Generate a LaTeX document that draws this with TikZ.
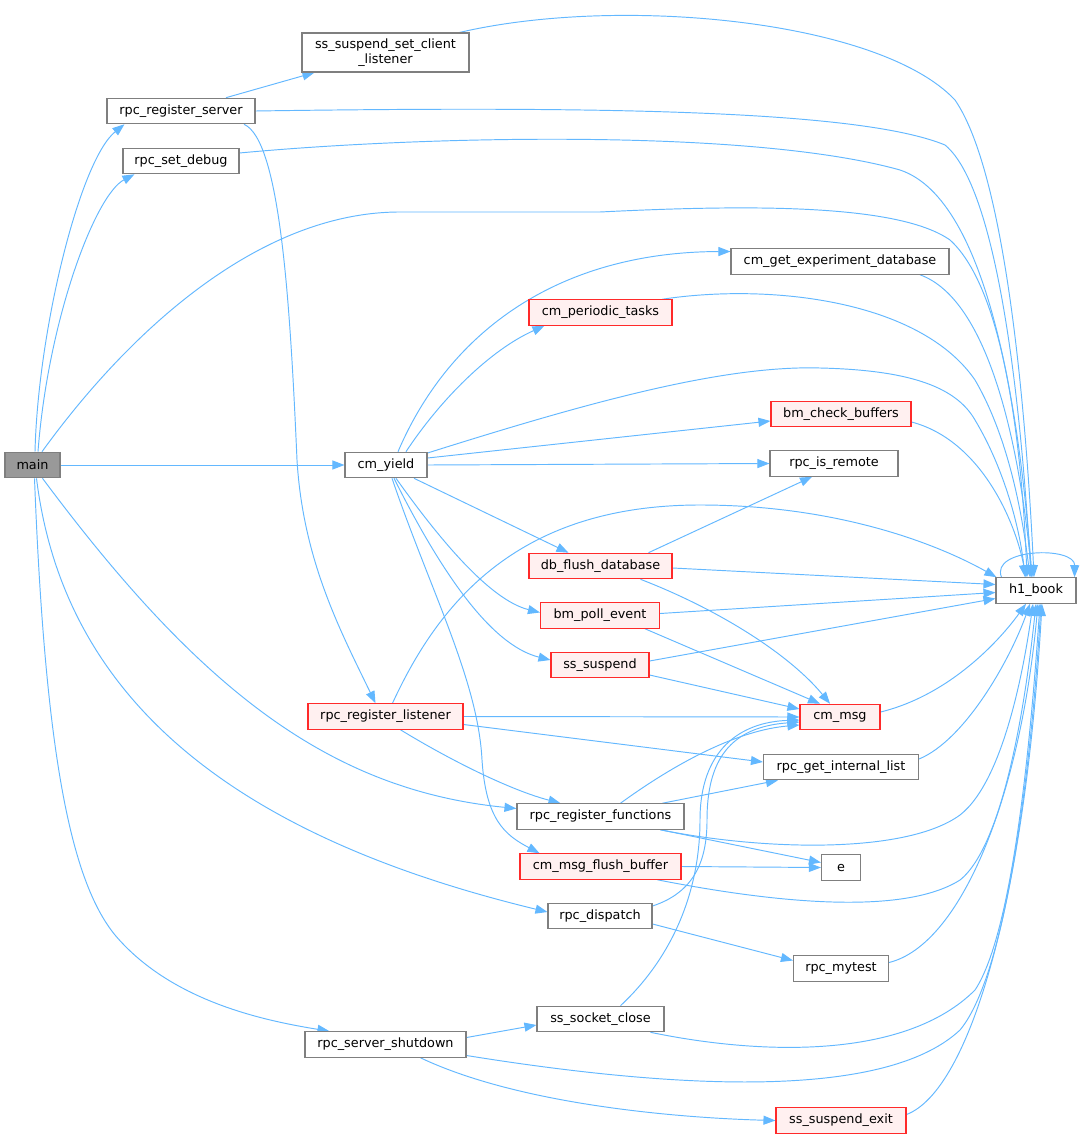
\documentclass[tikz,border=0pt]{standalone}
\usepackage{fontspec}
\setmainfont{DejaVu Sans}
\usetikzlibrary{arrows.meta,calc}
\definecolor{edgec}{HTML}{63B8FF}
\definecolor{bord}{HTML}{7F7F7F}
\definecolor{redbord}{HTML}{FF2A2A}
\definecolor{redfill}{HTML}{FFF0F0}
\definecolor{mainfill}{HTML}{999999}
\pgfdeclarelayer{back}
\pgfdeclarelayer{bg}
\pgfsetlayers{back,bg,main}
\begin{document}
\begin{tikzpicture}[x=1pt,y=-1pt,
 fn/.style={draw=bord, fill=white, line width=1.1pt, minimum height=25.5pt, inner sep=0pt, font=\fontsize{12.8}{15}\selectfont},
 redfn/.style={fn, draw=redbord, fill=redfill},
 mainfn/.style={fn, fill=mainfill},
 call/.style={draw=edgec, line width=0.95pt, -{Triangle[length=12pt,width=9pt]}},
]
\begin{pgfonlayer}{back}
\fill[white] (0,0) rectangle (1081,1139);
\end{pgfonlayer}
\useasboundingbox (0,0) rectangle (1081,1139);

\node[mainfn, minimum width=55] (main) at (32.5,465) {main};
\node[fn, minimum width=148] (rrs) at (181,111) {rpc\_register\_server};
\node[fn, minimum width=116] (rsd) at (181,161) {rpc\_set\_debug};
\node[fn, minimum width=167, minimum height=39, align=center] (sscl) at (385.5,52.5) {ss\_suspend\_set\_client\\\_listener};
\node[fn, minimum width=82] (cy) at (386,465) {cm\_yield};
\node[fn, minimum width=218] (cged) at (840,261.5) {cm\_get\_experiment\_database};
\node[redfn, minimum width=143] (cpt) at (600.5,312.5) {cm\_periodic\_tasks};
\node[redfn, minimum width=140] (bcb) at (841,414) {bm\_check\_buffers};
\node[fn, minimum width=128] (rir) at (834,463.5) {rpc\_is\_remote};
\node[redfn, minimum width=143] (dfd) at (600.5,566) {db\_flush\_database};
\node[redfn, minimum width=119] (bpe) at (600,615.5) {bm\_poll\_event};
\node[redfn, minimum width=98] (ssu) at (600,665) {ss\_suspend};
\node[fn, minimum width=80] (hb) at (1036,590.5) {h1\_book};
\node[redfn, minimum width=155] (rrl) at (385.5,716.5) {rpc\_register\_listener};
\node[redfn, minimum width=80] (cmm) at (840,717) {cm\_msg};
\node[fn, minimum width=155] (rgil) at (841,767) {rpc\_get\_internal\_list};
\node[fn, minimum width=167] (rrf) at (600.5,816.5) {rpc\_register\_functions};
\node[fn, minimum width=39] (e) at (841,867.5) {e};
\node[redfn, minimum width=161] (cmfb) at (600.5,866.5) {cm\_msg\_flush\_buffer};
\node[fn, minimum width=104] (rd) at (600,916) {rpc\_dispatch};
\node[fn, minimum width=95] (rmt) at (841,968.5) {rpc\_mytest};
\node[fn, minimum width=127] (ssc) at (600.5,1019) {ss\_socket\_close};
\node[fn, minimum width=161] (rss) at (385.5,1044.5) {rpc\_server\_shutdown};
\node[redfn, minimum width=130] (sse) at (841,1120.5) {ss\_suspend\_exit};

\begin{pgfonlayer}{bg}
% main
\draw[call] ($(main.north)+(2.5,0)$) .. controls (38,330) and (80,160) .. ($(rrs.south west)+(18,0)$);
\draw[call] ($(main.north)+(5.5,0)$) .. controls (48,320) and (95,195) .. ($(rsd.south west)+(12,0)$);
\draw[call] ($(main.north)+(9.5,0)$) .. controls (130,330) and (260,212) .. (400,212) -- (600,212) .. controls (760,204) and (900,205) .. (950,240) .. controls (1005,290) and (1022,450) .. ($(hb.north)+(-9,0)$);
\draw[call] (main.east) -- (cy.west);
\draw[call] ($(main.south)+(10,0)$) .. controls (200,690) and (330,790) .. ($(rrf.west)+(0,-8)$);
\draw[call] ($(main.south)+(4,0)$) .. controls (65,710) and (250,840) .. ($(rd.west)+(0,-4)$);
\draw[call] ($(main.south)+(2,0)$) .. controls (45,750) and (70,880) .. (115,935) .. controls (170,1000) and (260,1020) .. ($(rss.north west)+(25,0)$);
% rpc_register_server
\draw[call] ($(rrs.north)+(45,0)$) -- ($(sscl.south west)+(13,0)$);
\draw[call] (rrs.east) .. controls (600,106) and (860,110) .. (945,145) .. controls (1000,190) and (1022,420) .. ($(hb.north)+(-5,0)$);
\draw[call] ($(rrs.south)+(63,0)$) .. controls (280,140) and (290,300) .. (297,460) .. controls (303,560) and (340,630) .. ($(rrl.north)+(-10,0)$);
% rpc_set_debug
\draw[call] ($(rsd.east)+(0,-8)$) .. controls (420,136) and (750,128) .. (900,170) .. controls (990,200) and (1020,420) .. ($(hb.north)+(-4,0)$);
% ss_suspend_set_client_listener
\draw[call] ($(sscl.north east)+(-10,0)$) .. controls (620,-5) and (880,20) .. (955,100) .. controls (1010,180) and (1028,450) .. ($(hb.north)+(-2,0)$);
% cm_yield
\draw[call] ($(cy.north)+(12,0)$) .. controls (450,330) and (560,252) .. ($(cged.west)+(0,-10)$);
\draw[call] ($(cy.north)+(20,0)$) .. controls (440,400) and (490,350) .. ($(cpt.south west)+(16,0)$);
\draw[call] ($(cy.east)+(0,-12)$) .. controls (580,405) and (720,365) .. (820,368) .. controls (905,370) and (955,385) .. (975,420) .. controls (1005,470) and (1020,530) .. ($(hb.north)+(-11,0)$);
\draw[call] ($(cy.east)+(0,-7)$) -- ($(bcb.west)+(0,7)$);
\draw[call] (cy.east) -- (rir.west);
\draw[call] ($(cy.south)+(28,0)$) -- ($(dfd.north west)+(40,0)$);
\draw[call] ($(cy.south)+(10,0)$) .. controls (440,540) and (490,600) .. ($(bpe.west)+(0,-3)$);
\draw[call] ($(cy.south)+(8,0)$) .. controls (440,570) and (490,645) .. ($(ssu.west)+(0,-5)$);
\draw[call] ($(cy.south)+(6,0)$) .. controls (430,590) and (478,680) .. (482,760) .. controls (486,820) and (505,835) .. ($(cmfb.north west)+(20,0)$);
% rpc_register_listener
\draw[call] ($(rrl.north)+(7,0)$) .. controls (440,600) and (520,505) .. (700,505) .. controls (830,505) and (930,540) .. ($(hb.north west)+(1,0)$);
\draw[call] (rrl.east) -- (cmm.west);
\draw[call] ($(rrl.east)+(0,8)$) -- ($(rgil.west)+(0,-5)$);
\draw[call] ($(rrl.south)+(15,0)$) .. controls (450,760) and (510,790) .. ($(rrf.north west)+(44,0)$);
% db_flush_database
\draw[call] ($(dfd.north)+(48,0)$) -- ($(rir.south)+(-22,0)$);
\draw[call] ($(dfd.east)+(0,2)$) -- ($(hb.west)+(0,-6)$);
\draw[call] ($(dfd.south)+(40,0)$) .. controls (720,610) and (790,655) .. ($(cmm.north)+(-10,0)$);
% bm_poll_event
\draw[call] ($(bpe.east)+(0,-2)$) -- ($(hb.west)+(0,2)$);
\draw[call] ($(bpe.south)+(45,0)$) -- ($(cmm.north)+(-20,0)$);
% ss_suspend
\draw[call] ($(ssu.east)+(0,-4)$) -- ($(hb.west)+(0,8)$);
\draw[call] ($(ssu.east)+(0,10)$) -- ($(cmm.west)+(0,-8)$);
% cm_msg, rpc_get_internal_list
\draw[call] ($(cmm.east)+(0,-5)$) .. controls (950,695) and (1000,640) .. ($(hb.south)+(-10,0)$);
\draw[call] ($(rgil.east)+(0,-8)$) .. controls (965,740) and (1010,660) .. ($(hb.south)+(-6,0)$);
% rpc_register_functions
\draw[call] ($(rrf.north)+(20,0)$) .. controls (680,760) and (740,730) .. ($(cmm.west)+(0,8)$);
\draw[call] ($(rrf.north)+(62,0)$) -- ($(rgil.south west)+(15,0)$);
\draw[call] ($(rrf.south)+(60,0)$) .. controls (760,850) and (905,855) .. (960,815) .. controls (1005,780) and (1025,660) .. ($(hb.south)+(-3,0)$);
\draw[call] ($(rrf.south)+(60,0)$) -- ($(e.west)+(0,-5)$);
% cm_msg_flush_buffer
\draw[call] (cmfb.east) -- (e.west);
\draw[call] ($(cmfb.south)+(57,0)$) .. controls (760,900) and (900,918) .. (960,880) .. controls (1010,840) and (1030,660) .. (hb.south);
% rpc_dispatch
\draw[call] ($(rd.east)+(0,-10)$) .. controls (695,892) and (707,860) .. (707,820) .. controls (707,760) and (730,727) .. ($(cmm.west)+(0,5)$);
\draw[call] ($(rd.east)+(0,8)$) -- ($(rmt.west)+(0,-8)$);
% rpc_mytest
\draw[call] ($(rmt.east)+(0,-6)$) .. controls (960,945) and (1020,800) .. ($(hb.south)+(2,0)$);
% ss_socket_close
\draw[call] ($(ssc.north)+(20,0)$) .. controls (680,950) and (700,880) .. (700,820) .. controls (700,750) and (740,722) .. ($(cmm.west)+(0,3)$);
\draw[call] ($(ssc.south)+(50,0)$) .. controls (760,1055) and (905,1060) .. (975,990) .. controls (1015,930) and (1032,720) .. ($(hb.south)+(4,0)$);
% rpc_server_shutdown
\draw[call] ($(rss.east)+(0,-7)$) -- ($(ssc.west)+(0,6)$);
\draw[call] ($(rss.east)+(0,11)$) .. controls (650,1085) and (880,1105) .. (960,1030) .. controls (1010,970) and (1033,740) .. ($(hb.south)+(5,0)$);
\draw[call] ($(rss.south)+(35,0)$) .. controls (520,1105) and (680,1118) .. (sse.west);
% ss_suspend_exit
\draw[call] ($(sse.east)+(0,-6)$) .. controls (970,1090) and (1025,900) .. ($(hb.south)+(6,0)$);
% into h1_book from top
\draw[call] ($(cged.south)+(80,0)$) .. controls (990,300) and (1020,450) .. ($(hb.north)+(-4,0)$);
\draw[call] ($(cpt.north)+(62,0)$) .. controls (770,283) and (920,300) .. (975,380) .. controls (1010,440) and (1023,520) .. ($(hb.north)+(-6,0)$);
\draw[call] ($(bcb.east)+(0,8)$) .. controls (980,440) and (1015,520) .. ($(hb.north)+(-10,0)$);
% self loop
\draw[call] ($(hb.north west)+(6,0)$) .. controls (990,548) and (1075,546) .. ($(hb.north east)+(-2,0)$);
\end{pgfonlayer}
\end{tikzpicture}
\end{document}
